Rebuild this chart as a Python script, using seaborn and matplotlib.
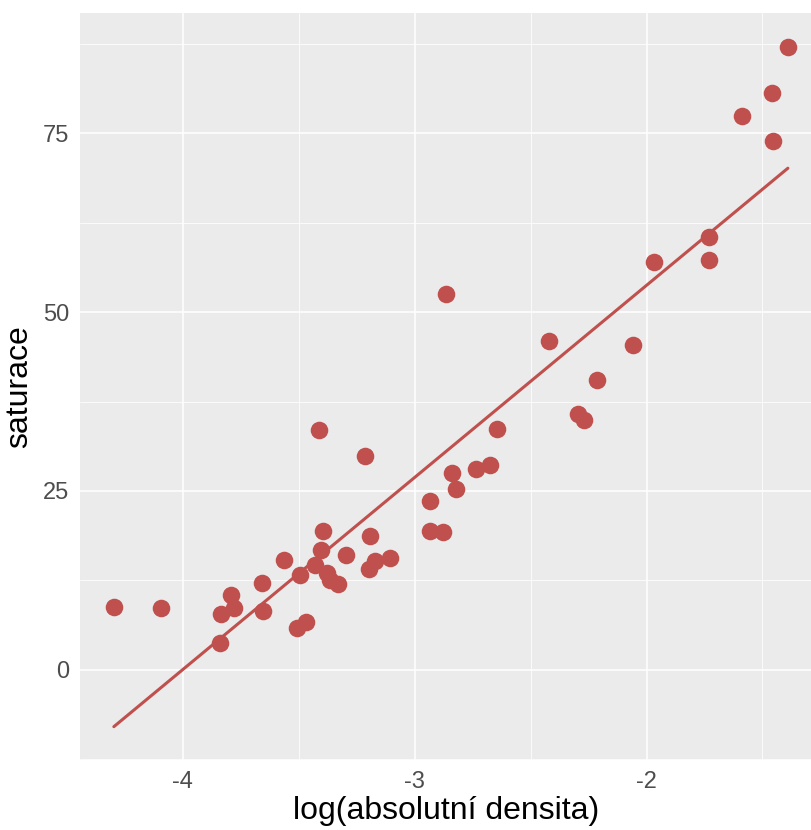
import numpy as np
import pandas as pd
import matplotlib
matplotlib.use("Agg")
import matplotlib.pyplot as plt
import seaborn as sns
from matplotlib.ticker import MultipleLocator

log_density = [-4.298, -4.095, -3.840, -3.836, -3.793, -3.780, -3.660, -3.655, -3.564, -3.508,
               -3.495, -3.470, -3.430, -3.413, -3.405, -3.396, -3.379, -3.366, -3.330, -3.297,
               -3.215, -3.198, -3.193, -3.172, -3.107, -2.934, -2.934, -2.878, -2.865, -2.840,
               -2.822, -2.736, -2.676, -2.645, -2.421, -2.296, -2.270, -2.214, -2.059, -1.968,
               -1.731, -1.731, -1.588, -1.459, -1.455, -1.390]
saturation = [8.8, 8.7, 3.8, 7.8, 10.5, 8.7, 12.2, 8.2, 15.4, 5.8,
              13.3, 6.7, 14.7, 33.5, 16.8, 19.4, 13.5, 12.6, 12.0, 16.1,
              29.9, 14.1, 18.7, 15.2, 15.6, 23.6, 19.4, 19.3, 52.5, 27.5,
              25.3, 28.1, 28.6, 33.7, 45.9, 35.8, 34.9, 40.5, 45.4, 57.0,
              60.5, 57.3, 77.4, 80.6, 73.9, 87.0]

df = pd.DataFrame({"x": log_density, "y": saturation})

sns.set_theme(style="darkgrid")
plt.rcParams['font.family'] = ['Liberation Sans', 'DejaVu Sans']
plt.rcParams['axes.unicode_minus'] = False

fig = plt.figure(figsize=(8.12, 8.30), dpi=100)
ax = fig.add_axes([80/812, 70/830, 732/812, 747/830])
ax.set_facecolor("#EBEBEB")

col = "#C0504D"
sns.regplot(data=df, x="x", y="y", ax=ax, ci=None, color=col,
            scatter_kws=dict(s=160, alpha=1, linewidths=0, zorder=3),
            line_kws=dict(lw=2.2, zorder=2))

ax.set_xlim(-4.444, -1.286)
ax.set_ylim(-12.57, 91.76)
ax.xaxis.set_major_locator(MultipleLocator(1))
ax.xaxis.set_minor_locator(MultipleLocator(0.5))
ax.yaxis.set_major_locator(MultipleLocator(25))
ax.yaxis.set_minor_locator(MultipleLocator(12.5))
ax.grid(which="major", color="white", lw=1.1)
ax.grid(which="minor", color="white", lw=0.55)
for s in ax.spines.values():
    s.set_visible(False)
ax.tick_params(axis="both", which="major", length=4, width=1, color="#333333",
               labelsize=17, labelcolor="#4D4D4D", pad=4)
ax.tick_params(axis="both", which="minor", length=0)
ax.set_xlabel("log(absolutní densita)", fontsize=23, color="black", labelpad=2)
ax.set_ylabel("saturace", fontsize=23, color="black", labelpad=6)

fig.savefig("out.png", dpi=100, facecolor="white")
